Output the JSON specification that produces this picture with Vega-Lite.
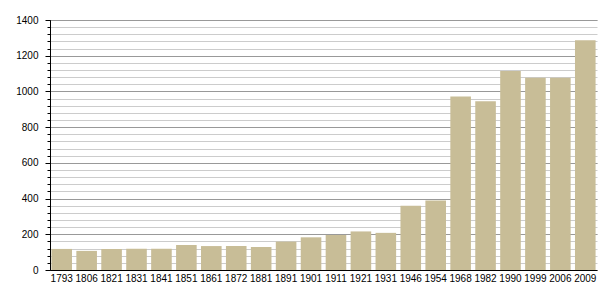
{
  "$schema": "https://vega.github.io/schema/vega-lite/v6.json",
  "width": 547,
  "height": 250,
  "autosize": {"type": "none"},
  "padding": {"left": 50, "top": 20, "right": 8, "bottom": 30},
  "background": "white",
  "config": {"view": {"stroke": null}, "font": "Liberation Sans"},
  "data": {
    "values": [
      {"year": "1793", "pop": 118},
      {"year": "1806", "pop": 107},
      {"year": "1821", "pop": 118},
      {"year": "1831", "pop": 119},
      {"year": "1841", "pop": 119},
      {"year": "1851", "pop": 140},
      {"year": "1861", "pop": 134},
      {"year": "1872", "pop": 134},
      {"year": "1881", "pop": 129},
      {"year": "1891", "pop": 159},
      {"year": "1901", "pop": 183},
      {"year": "1911", "pop": 196},
      {"year": "1921", "pop": 216},
      {"year": "1931", "pop": 208},
      {"year": "1946", "pop": 360},
      {"year": "1954", "pop": 389},
      {"year": "1968", "pop": 972},
      {"year": "1982", "pop": 945},
      {"year": "1990", "pop": 1115},
      {"year": "1999", "pop": 1077},
      {"year": "2006", "pop": 1077},
      {"year": "2009", "pop": 1286}
    ]
  },
  "encoding": {
    "x": {
      "field": "year",
      "type": "ordinal",
      "sort": null,
      "scale": {"paddingInner": 0.174, "paddingOuter": 0.057},
      "axis": {
        "title": null,
        "labelAngle": 0,
        "ticks": false,
        "domainColor": "#000000",
        "domainWidth": 1,
        "labelFontSize": 10,
        "labelColor": "#000000",
        "labelPadding": 3,
        "labelOverlap": false
      }
    }
  },
  "layer": [
    {
      "mark": {"type": "bar", "color": "#c8bd97"},
      "encoding": {
        "y": {
          "field": "pop",
          "type": "quantitative",
          "scale": {"domain": [0, 1400], "nice": false},
          "axis": {
            "orient": "left",
            "title": null,
            "values": [0, 40, 80, 120, 160, 200, 240, 280, 320, 360, 400, 440, 480, 520, 560, 600, 640, 680, 720, 760, 800, 840, 880, 920, 960, 1000, 1040, 1080, 1120, 1160, 1200, 1240, 1280, 1320, 1360, 1400],
            "labels": false,
            "domain": false,
            "tickSize": 3,
            "tickColor": "#000000",
            "grid": true,
            "gridColor": "#cccccc"
          }
        }
      }
    },
    {
      "mark": {"type": "bar", "opacity": 0},
      "encoding": {
        "y": {
          "field": "pop",
          "type": "quantitative",
          "scale": {"domain": [0, 1400], "nice": false},
          "axis": {
            "orient": "left",
            "title": null,
            "format": "d",
            "values": [0, 200, 400, 600, 800, 1000, 1200, 1400],
            "domain": true,
            "domainColor": "#000000",
            "tickSize": 5,
            "tickColor": "#000000",
            "labelFontSize": 10,
            "labelColor": "#000000",
            "labelPadding": 7,
            "grid": true,
            "gridColor": "#999999"
          }
        }
      }
    }
  ],
  "resolve": {"axis": {"y": "independent"}}
}
